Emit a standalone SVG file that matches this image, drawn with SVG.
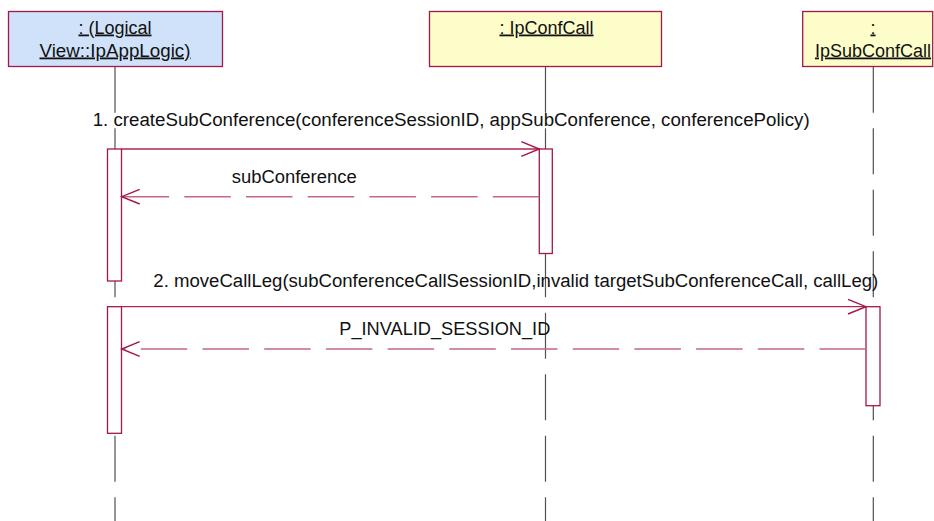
<svg xmlns="http://www.w3.org/2000/svg" width="934" height="521" viewBox="0 0 934 521">
  <style>
    .bg { fill: #ffffff; }
    .obj { stroke: #a3174a; stroke-width: 1.3; }
    .blue { fill: #cfe2f9; }
    .yellow { fill: #fdfdc9; }
    .title { font-family: "Liberation Sans", Arial, sans-serif; font-size: 18px; fill: #111111; text-anchor: middle; text-decoration: underline; }
    .label { font-family: "Liberation Sans", Arial, sans-serif; font-size: 18px; fill: #111111; }
    .life { stroke: #505050; stroke-width: 1.2; stroke-dasharray: 46 15.5; fill: none; }
    .act { fill: #ffffff; stroke: #a3174a; stroke-width: 1.3; }
    .msg { stroke: #b02556; stroke-width: 1.3; fill: none; }
    .ret { stroke: #c4678a; stroke-width: 1.6; stroke-dasharray: 46.5 15.2; fill: none; }
  </style>
  <defs>
    <marker id="open" viewBox="-20 -10 22 20" refX="0" refY="0" markerWidth="22" markerHeight="20" markerUnits="userSpaceOnUse" orient="auto" overflow="visible">
      <path d="M-18,-7.3 L0,0 L-18,7.3" fill="none" stroke="#a3174a" stroke-width="1.4"/>
    </marker>
  </defs>
  <rect class="bg" x="0" y="0" width="934" height="521"/>

  <g id="lifelines">
    <line class="life" x1="115" y1="66.7" x2="115" y2="521"/>
    <line class="life" x1="545.5" y1="66.7" x2="545.5" y2="521"/>
    <line class="life" x1="873.3" y1="66.7" x2="873.3" y2="521"/>
  </g>

  <g id="node-appLogic">
    <rect class="obj blue" x="8.5" y="11.5" width="214" height="55"/>
    <text class="title" x="115" y="33.5">: (Logical</text>
    <text class="title" x="115" y="56.5" textLength="151" lengthAdjust="spacingAndGlyphs">View::IpAppLogic)</text>
  </g>
  <g id="node-confCall">
    <rect class="obj yellow" x="429.5" y="11.5" width="232" height="55"/>
    <text class="title" x="546.5" y="33.5">: IpConfCall</text>
  </g>
  <g id="node-subConfCall">
    <rect class="obj yellow" x="802.7" y="11.5" width="130" height="55"/>
    <text class="title" x="873" y="33.5">:</text>
    <text class="title" x="873" y="56.5">IpSubConfCall</text>
  </g>

  <g id="activations">
    <rect class="act" x="107.5" y="149" width="14" height="132"/>
    <rect class="act" x="539.3" y="149" width="13" height="104.5"/>
    <rect class="act" x="107.5" y="306.7" width="14" height="126.6"/>
    <rect class="act" x="866" y="306.7" width="14" height="99"/>
  </g>

  <g id="connectors">
    <line class="msg" x1="121.5" y1="149" x2="539.3" y2="149" marker-end="url(#open)"/>
    <line class="ret" x1="539.3" y1="196.7" x2="121.7" y2="196.7" marker-end="url(#open)"/>
    <line class="msg" x1="121.5" y1="306.7" x2="866" y2="306.7" marker-end="url(#open)"/>
    <line class="ret" x1="866" y1="349" x2="121.7" y2="349" marker-end="url(#open)"/>
  </g>

  <g id="labels">
    <text class="label" x="92.7" y="126" textLength="717" lengthAdjust="spacingAndGlyphs">1. createSubConference(conferenceSessionID, appSubConference, conferencePolicy)</text>
    <text class="label" x="231.7" y="182.7" textLength="125" lengthAdjust="spacingAndGlyphs">subConference</text>
    <text class="label" x="153.3" y="287" textLength="725" lengthAdjust="spacingAndGlyphs">2. moveCallLeg(subConferenceCallSessionID,invalid targetSubConferenceCall, callLeg)</text>
    <text class="label" x="339.3" y="335" textLength="211" lengthAdjust="spacingAndGlyphs">P_INVALID_SESSION_ID</text>
  </g>
</svg>
